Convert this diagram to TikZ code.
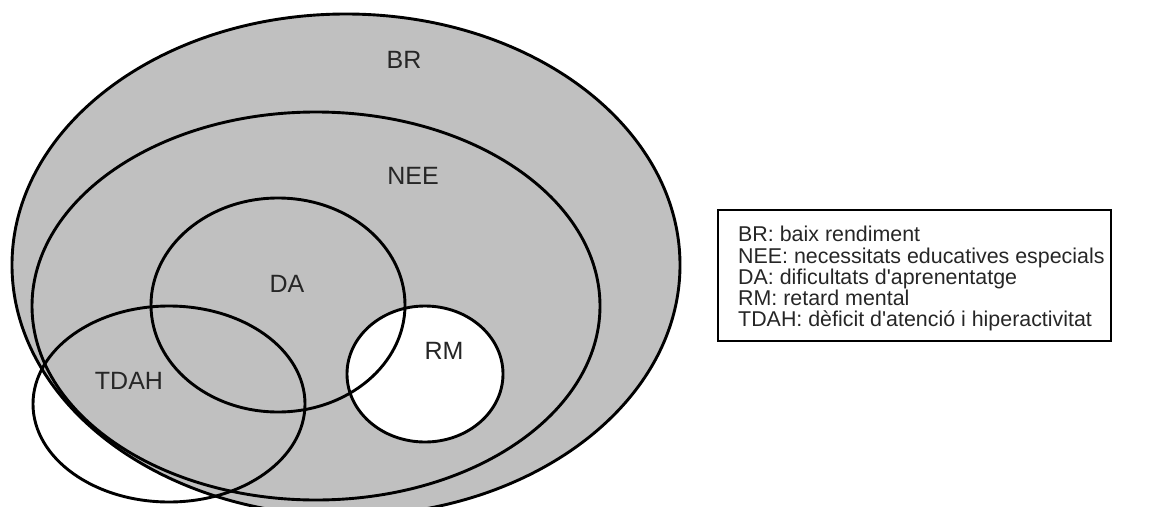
\documentclass[tikz,border=0pt]{standalone}
\usepackage{fontspec}
\setmainfont{Liberation Sans}
\usetikzlibrary{shapes,positioning,calc}

\definecolor{setgray}{RGB}{192,192,192}

\tikzset{
  set/.style 2 args={ellipse, draw, line width=2.9pt, inner sep=0pt, minimum width=#1, minimum height=#2},
  setname/.style={inner sep=0pt, text=black!85, font=\fontsize{25}{30}\selectfont},
  legendtext/.style={inner sep=0pt, align=left, text=black!85, font=\fontsize{21.4}{21.3}\selectfont},
}

\begin{document}
\begin{tikzpicture}[x=1pt,y=-1pt]

\useasboundingbox (0,0) rectangle (1156,506);
\clip (0,0) rectangle (1156,506);

% sets
\node[set={668pt}{502pt}, fill=setgray] (br) at (346,265) {};
\node[set={156pt}{136pt}, fill=white] (rm) at (425,374) {};
\node[set={568pt}{388pt}] (nee) at (316,306) {};
\node[set={254pt}{214pt}] (da) at (278,305) {};
\node[set={272pt}{196pt}] (tdah) at (169,404) {};

% names
\node[setname] (brname) at (404,60) {BR};
\node[setname] (neename) at (413,176) {NEE};
\node[setname] (daname) at (287,284) {DA};
\node[setname] (rmname) at (444,351) {RM};
\node[setname] (tdahname) at (129,381) {TDAH};

% legend
\draw[line width=1.4pt] (718,210) rectangle (1111,341);
\node[legendtext, anchor=north west] (legend) at (738,226) {BR: baix rendiment\\
NEE: necessitats educatives especials\\
DA: dificultats d\textquotesingle aprenentatge\\
RM: retard mental\\
TDAH: dèficit d\textquotesingle atenció i hiperactivitat};

\end{tikzpicture}
\end{document}
